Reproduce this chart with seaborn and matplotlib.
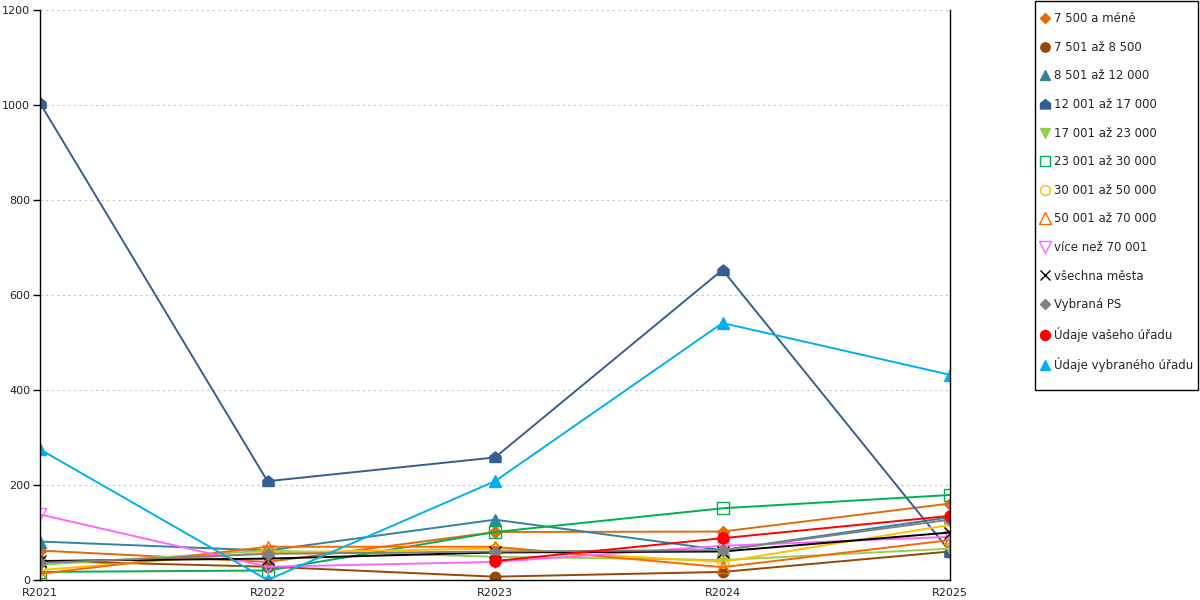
import numpy as np
import pandas as pd
import matplotlib
matplotlib.use("Agg")
import matplotlib.pyplot as plt
from matplotlib.lines import Line2D
from matplotlib.patches import Rectangle
from matplotlib.path import Path
import seaborn as sns

roky = ["R2021", "R2022", "R2023", "R2024", "R2025"]

serie = [
    "7 500 a méně", "7 501 až 8 500", "8 501 až 12 000", "12 001 až 17 000",
    "17 001 až 23 000", "23 001 až 30 000", "30 001 až 50 000", "50 001 až 70 000",
    "více než 70 001", "všechna města", "Vybraná PS", "Údaje vašeho úřadu",
    "Údaje vybraného úřadu",
]

do_7500 = [62, 38, 101, 102, 161]
do_8500 = [40, 28, 7, 17, 60]
do_12000 = [81, 62, 127, 63, 132]
do_17000 = [1004, 208, 258, 653, 60]
do_23000 = [32, 62, 49, 42, 66]
do_30000 = [17, 20, 101, 151, 179]
do_50000 = [21, 58, 66, 38, 116]
do_70000 = [13, 70, 70, 27, 84]
nad_70001 = [138, 28, 38, 72, 91]
vsechna = [40, 45, 58, 60, 100]
vybrana_ps = [36, 55, 60, 63, 127]
vas_urad = [np.nan, np.nan, 40, 88, 135]
vybrany_urad = [275, 0, 208, 541, 432]

hodnoty = [do_7500, do_8500, do_12000, do_17000, do_23000, do_30000, do_50000,
           do_70000, nad_70001, vsechna, vybrana_ps, vas_urad, vybrany_urad]

# house-shaped marker for 12 001 - 17 000
domek = Path([(-1, -0.9), (1, -0.9), (1, 0.2), (0, 1), (-1, 0.2), (-1, -0.9)],
             [Path.MOVETO] + [Path.LINETO] * 4 + [Path.CLOSEPOLY])

styly = [
    dict(color="#E36C09", marker="D", ms=6, fill=True),
    dict(color="#974806", marker="o", ms=7.5, fill=True),
    dict(color="#31849B", marker="^", ms=8, fill=True),
    dict(color="#365F91", marker=domek, ms=8, fill=True),
    dict(color="#92D050", marker="v", ms=8, fill=True),
    dict(color="#00B050", marker="s", ms=8, fill=False),
    dict(color="#FFC000", marker="o", ms=8, fill=False),
    dict(color="#FF6600", marker="^", ms=9, fill=False),
    dict(color="#FF66FF", marker="v", ms=9, fill=False),
    dict(color="#000000", marker="x", ms=8, fill=False),
    dict(color="#808080", marker="D", ms=6, fill=True),
    dict(color="#FF0000", marker="o", ms=8, fill=True),
    dict(color="#00B0F0", marker="^", ms=8, fill=True),
]

df = pd.DataFrame({"rok": roky * len(serie),
                   "serie": np.repeat(serie, len(roky)),
                   "hodnota": np.concatenate(hodnoty)})

sns.set_style("white")
plt.rcParams["font.family"] = ["DejaVu Sans"]

fig = plt.figure(figsize=(12, 6), dpi=100)
ax = fig.add_axes([40 / 1200, 20 / 600, 910 / 1200, 570 / 600])

for nazev, st in zip(serie, styly):
    d = df[df["serie"] == nazev].dropna()
    sns.lineplot(data=d, x="rok", y="hodnota", ax=ax, color=st["color"], lw=1.4,
                 marker=st["marker"], markersize=st["ms"],
                 markerfacecolor=st["color"] if st["fill"] else "none",
                 markeredgecolor=st["color"], markeredgewidth=1.0,
                 sort=False, legend=False)

ax.set_xlim(0, 4)
ax.set_ylim(0, 1200)
ax.set_yticks(range(0, 1201, 200))
ax.set_xlabel("")
ax.set_ylabel("")
ax.yaxis.grid(True, color="#C4C4C4", ls=(0, (2, 3)), lw=0.8)
ax.set_axisbelow(True)

ax.set_xticks(range(5))
ax.set_xticklabels(roky)
ax.set_xticks([0, 0.5, 1.5, 2.5, 3.5, 4], minor=True)
ax.tick_params(axis="x", which="major", length=0, pad=6, labelsize=8, colors="#222222")
ax.tick_params(axis="x", which="minor", length=6, width=1, color="black", direction="out")
ax.tick_params(axis="y", which="major", length=5, width=1, color="black", pad=2,
               direction="out", labelsize=8, labelcolor="#222222", left=True)

for s in ["left", "bottom", "right"]:
    ax.spines[s].set_color("black")
    ax.spines[s].set_linewidth(1)
ax.spines["top"].set_visible(False)

handles = [Line2D([], [], ls="none", marker=st["marker"], markersize=st["ms"] * 0.9,
                  color=st["color"],
                  markerfacecolor=st["color"] if st["fill"] else "none",
                  markeredgecolor=st["color"], markeredgewidth=1.0)
           for st in styly]
fig.legend(handles, serie, loc="upper left", bbox_to_anchor=(1035 / 1200, 1 - 7 / 600),
           frameon=False, fontsize=8.5, labelspacing=1.32, handlelength=0.8,
           handletextpad=0.35, borderpad=0.45, borderaxespad=0)
# legend frame drawn separately to match the box of the original
fig.patches.append(Rectangle((1035 / 1200, 1 - 390 / 600), 163 / 1200, 389 / 600,
                             transform=fig.transFigure, fill=False,
                             edgecolor="black", lw=1))

fig.savefig("out.png", dpi=100)
